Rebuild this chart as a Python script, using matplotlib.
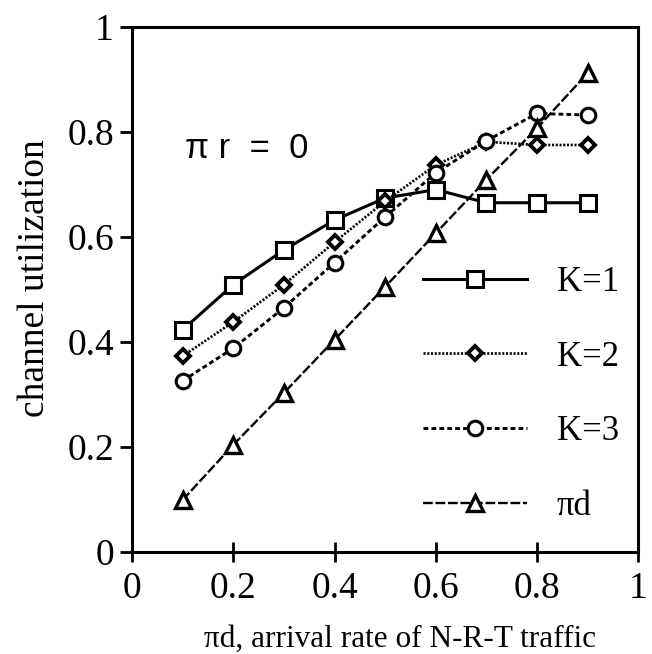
"""Channel utilization vs. N-R-T arrival rate for K=1,2,3 (pi_r = 0)."""

import matplotlib
matplotlib.use("Agg")
import matplotlib.pyplot as plt
from matplotlib.ticker import FuncFormatter

# data
pi_d = [0.1, 0.2, 0.3, 0.4, 0.5, 0.6, 0.7, 0.8, 0.9]
util_k1 = [0.423, 0.509, 0.575, 0.632, 0.674, 0.690, 0.665, 0.665, 0.665]
util_k2 = [0.373, 0.438, 0.509, 0.590, 0.668, 0.737, 0.781, 0.775, 0.775]
util_k3 = [0.326, 0.388, 0.465, 0.551, 0.638, 0.722, 0.783, 0.835, 0.832]
util_pid = [0.099, 0.204, 0.303, 0.404, 0.505, 0.607, 0.709, 0.807, 0.912]

series_labels = ["K=1", "K=2", "K=3", "\u03c0d"]
ticks = [0, 0.2, 0.4, 0.6, 0.8, 1]

serif = ["Liberation Serif", "DejaVu Serif"]
plt.rcParams["font.family"] = serif
plt.rcParams["lines.scale_dashes"] = False


def tick_fmt(v, _pos):
    if abs(v) < 1e-9:
        return "0"
    if abs(v - 1) < 1e-9:
        return "1"
    return f"{v:.1f}"


fig = plt.figure(figsize=(6.52, 6.54), dpi=100)
ax = fig.add_axes([0.2025, 0.156, 0.7765, 0.803])

mk = dict(markerfacecolor="white", markeredgecolor="black", color="black")
l1, = ax.plot(pi_d, util_k1, linestyle="-", linewidth=2.2, marker="s",
              markersize=12, markeredgewidth=2.2, **mk)
l2, = ax.plot(pi_d, util_k2, linestyle=(0, (1.5, 1.2)), linewidth=1.9, marker="D",
              markersize=7.5, markeredgewidth=2.8, **mk)
l3, = ax.plot(pi_d, util_k3, linestyle=(0, (3.5, 2.2)), linewidth=2.1, marker="o",
              markersize=10.5, markeredgewidth=2.2, **mk)
l4, = ax.plot(pi_d, util_pid, linestyle=(0, (7, 2)), linewidth=1.7, marker="^",
              markersize=12, markeredgewidth=2.4, **mk)

ax.set_xlim(0, 1)
ax.set_ylim(0, 1)
ax.set_xticks(ticks)
ax.set_yticks(ticks)
ax.xaxis.set_major_formatter(FuncFormatter(tick_fmt))
ax.yaxis.set_major_formatter(FuncFormatter(tick_fmt))
ax.tick_params(axis="x", direction="inout", length=14, width=2.0, pad=7,
               labelsize=27)
ax.tick_params(axis="y", direction="out", length=9, width=2.0, pad=4,
               labelsize=27)
for sp in ax.spines.values():
    sp.set_linewidth(2.2)

ax.set_ylabel("channel utilization", fontsize=27)
ax.yaxis.set_label_coords(-0.158, 0.522)
ax.set_xlabel("\u03c0d, arrival rate of N-R-T traffic", fontsize=22.5)
ax.xaxis.set_label_coords(0.53, -0.138)

ax.text(0.105, 0.768, "\u03c0 r  =  0", fontsize=25,
        family=["Liberation Sans", "DejaVu Sans"], va="center", ha="left")

leg = ax.legend([l1, l2, l3, l4], series_labels, loc="center left",
                bbox_to_anchor=(0.575, 0.30), frameon=False, fontsize=25,
                handlelength=3.0, handletextpad=0.85, labelspacing=1.2,
                borderpad=0, borderaxespad=0, numpoints=1)

fig.savefig("out.png", dpi=100)
